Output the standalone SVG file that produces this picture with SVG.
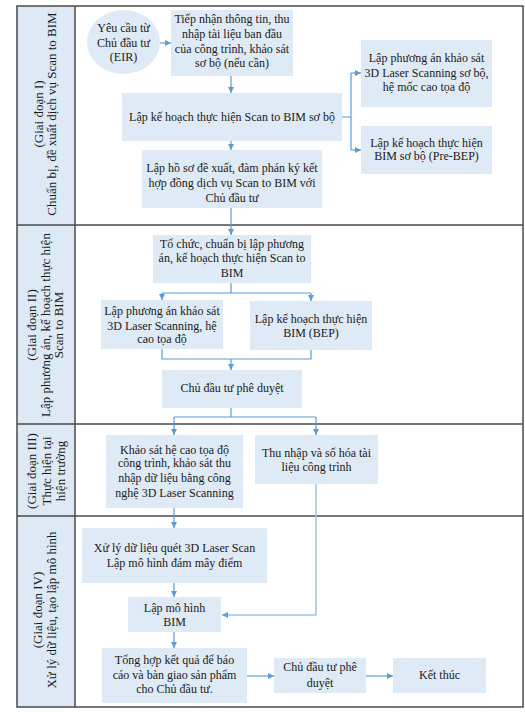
<svg xmlns="http://www.w3.org/2000/svg" width="525" height="712" viewBox="0 0 525 712">
<style>
text{font-family:"Liberation Serif","Times New Roman",serif;font-size:12px;fill:#1a1a1a;text-anchor:middle}
.lbl{font-size:13px}
.box{fill:#deeaf5}
.frame{fill:none;stroke:#4a4a4a;stroke-width:1.5}
.con{fill:none;stroke:#5b9bd5;stroke-width:1.2}
.con2{fill:none;stroke:#9dc3e6;stroke-width:1.5}
</style>
<defs>
<marker id="ah" markerWidth="6" markerHeight="6" refX="6" refY="3" orient="auto" markerUnits="userSpaceOnUse">
<path d="M0,0 L6,3 L0,6 Z" fill="#5b9bd5"/>
</marker>
</defs>
<rect x="0" y="0" width="525" height="712" fill="#ffffff"/>
<g id="frame">
<rect x="17" y="6" width="58" height="701" fill="#dde9f5"/>
<rect class="frame" x="17" y="6" width="506" height="701"/>
<line class="frame" x1="75" y1="6" x2="75" y2="707"/>
<line class="frame" x1="17" y1="225" x2="523" y2="225"/>
<line class="frame" x1="17" y1="424" x2="523" y2="424"/>
<line class="frame" x1="17" y1="516" x2="523" y2="516"/>
</g>
<g id="lane-labels">
<g id="lane1"><text class="lbl" transform="translate(43,114) rotate(-90)">(Giai đoạn I)</text><text class="lbl" transform="translate(56,114) rotate(-90)">Chuẩn bị, đề xuất dịch vụ Scan to BIM</text></g>
<g id="lane2"><text class="lbl" transform="translate(36,325) rotate(-90)">(Giai đoạn II)</text><text class="lbl" transform="translate(50,325) rotate(-90)">Lập phương án, kế hoạch thực hiện</text><text class="lbl" transform="translate(63,325) rotate(-90)">Scan to BIM</text></g>
<g id="lane3"><text class="lbl" transform="translate(36,471) rotate(-90)">(Giai đoạn III)</text><text class="lbl" transform="translate(51,471) rotate(-90)">Thực hiện tại</text><text class="lbl" transform="translate(65,471) rotate(-90)">hiện trường</text></g>
<g id="lane4"><text class="lbl" transform="translate(42,610) rotate(-90)">(Giai đoạn IV)</text><text class="lbl" transform="translate(56,610) rotate(-90)">Xử lý dữ liệu, tạo lập mô hình</text></g>
</g>
<g id="connectors">
<path class="con" d="M160,43 H171" marker-end="url(#ah)"/>
<path class="con" d="M231,76 V93" marker-end="url(#ah)"/>
<path class="con" d="M342,117 H351 M351,73 V150"/>
<path class="con" d="M351,73 H361" marker-end="url(#ah)"/>
<path class="con" d="M351,150 H361" marker-end="url(#ah)"/>
<path class="con" d="M231,141 V150" marker-end="url(#ah)"/>
<path class="con" d="M231,208 V235" marker-end="url(#ah)"/>
<path class="con" d="M231,283 V293 M162,293 H311"/>
<path class="con" d="M162,293 V300" marker-end="url(#ah)"/>
<path class="con" d="M311,293 V301" marker-end="url(#ah)"/>
<path class="con" d="M162,349 V359 H311 V350"/>
<path class="con" d="M231,359 V370" marker-end="url(#ah)"/>
<path class="con" d="M231,408 V417 M174,417 H316"/>
<path class="con" d="M174,417 V435" marker-end="url(#ah)"/>
<path class="con" d="M316,417 V435" marker-end="url(#ah)"/>
<path class="con" d="M174,508 V528" marker-end="url(#ah)"/>
<path class="con2" d="M316,484 V615 H222" marker-end="url(#ah)"/>
<path class="con" d="M174,583 V597" marker-end="url(#ah)"/>
<path class="con" d="M174,632 V648" marker-end="url(#ah)"/>
<path class="con" d="M247,676 H274" marker-end="url(#ah)"/>
<path class="con" d="M366,676 H393" marker-end="url(#ah)"/>
</g>
<g id="n-eir"><ellipse cx="123.5" cy="42" rx="36.5" ry="32" class="box"/><text x="123.5" y="32">Yêu cầu từ</text><text x="123.5" y="47">Chủ đầu tư</text><text x="123.5" y="61">(EIR)</text></g>
<g id="n-tiepnhan"><rect class="box" x="171" y="10" width="122" height="66"/><text x="232" y="23">Tiếp nhận thông tin, thu</text><text x="232" y="38">nhập tài liệu ban đầu</text><text x="232" y="53">của công trình, khảo sát</text><text x="232" y="67">sơ bộ (nếu cần)</text></g>
<g id="n-lapkehoach-sobo"><rect class="box" x="122" y="93" width="220" height="48"/><text x="232" y="121">Lập kế hoạch thực hiện Scan to BIM sơ bộ</text></g>
<g id="n-hoso"><rect class="box" x="142" y="150" width="180" height="58"/><text x="232" y="172">Lập hồ sơ đề xuất, đàm phán ký kết</text><text x="232" y="187">hợp đồng dịch vụ Scan to BIM với</text><text x="232" y="202">Chủ đầu tư</text></g>
<g id="n-pa-sobo"><rect class="box" x="361" y="40" width="131" height="67"/><text x="426.5" y="62">Lập phương án khảo sát</text><text x="426.5" y="77">3D Laser Scanning sơ bộ,</text><text x="426.5" y="91">hệ mốc cao tọa độ</text></g>
<g id="n-prebep"><rect class="box" x="361" y="126" width="131" height="48"/><text x="426.5" y="147">Lập kế hoạch thực hiện</text><text x="426.5" y="160">BIM sơ bộ (Pre-BEP)</text></g>
<g id="n-tochuc"><rect class="box" x="153" y="235" width="158" height="48"/><text x="232" y="248">Tổ chức, chuẩn bị lập phương</text><text x="232" y="262">án, kế hoạch thực hiện Scan to</text><text x="232" y="277">BIM</text></g>
<g id="n-pa"><rect class="box" x="101" y="300" width="122" height="49"/><text x="162" y="315">Lập phương án khảo sát</text><text x="162" y="330">3D Laser Scanning, hệ</text><text x="162" y="343">cao tọa độ</text></g>
<g id="n-bep"><rect class="box" x="250" y="301" width="122" height="49"/><text x="311" y="323">Lập kế hoạch thực hiện</text><text x="311" y="337">BIM (BEP)</text></g>
<g id="n-pheduyet1"><rect class="box" x="162" y="370" width="140" height="38"/><text x="232" y="392">Chủ đầu tư phê duyệt</text></g>
<g id="n-khaosat"><rect class="box" x="106" y="435" width="137" height="73"/><text x="174.5" y="454">Khảo sát hệ cao tọa độ</text><text x="174.5" y="467">công trình, khảo sát thu</text><text x="174.5" y="482">nhập dữ liệu bằng công</text><text x="174.5" y="497">nghệ 3D Laser Scanning</text></g>
<g id="n-thunhap"><rect class="box" x="255" y="435" width="123" height="49"/><text x="316.5" y="457">Thu nhập và số hóa tài</text><text x="316.5" y="471">liệu công trình</text></g>
<g id="n-xuly"><rect class="box" x="82" y="528" width="185" height="55"/><text x="174.5" y="552">Xử lý dữ liệu quét 3D Laser Scan</text><text x="174.5" y="567">Lập mô hình đám mây điểm</text></g>
<g id="n-mohinh"><rect class="box" x="128" y="597" width="93" height="35"/><text x="174.5" y="612">Lập mô hình</text><text x="174.5" y="626">BIM</text></g>
<g id="n-tonghop"><rect class="box" x="102" y="648" width="145" height="55"/><text x="174.5" y="664">Tổng hợp kết quả để báo</text><text x="174.5" y="679">cáo và bàn giao sản phẩm</text><text x="174.5" y="693">cho Chủ đầu tư.</text></g>
<g id="n-pheduyet2"><rect class="box" x="274" y="658" width="92" height="35"/><text x="320" y="671">Chủ đầu tư phê</text><text x="320" y="687">duyệt</text></g>
<g id="n-ketthuc"><rect class="box" x="393" y="658" width="93" height="35"/><text x="439.5" y="679">Kết thúc</text></g>
</svg>
